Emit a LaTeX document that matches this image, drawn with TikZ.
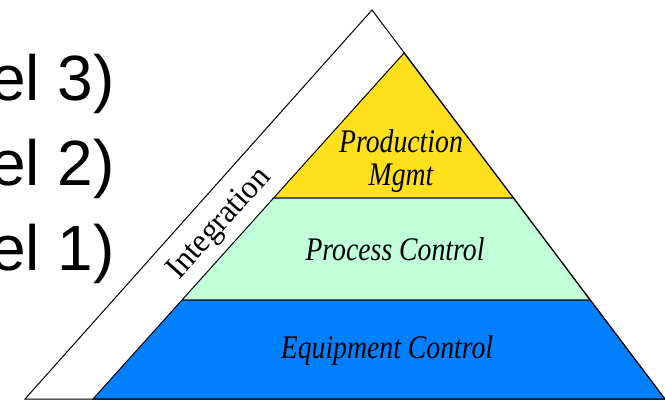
\documentclass[tikz,border=0pt]{standalone}
\usepackage{fontspec}
\usepackage{graphicx}
\setmainfont{Liberation Serif}
\newfontfamily\arialfont{Liberation Sans}
\definecolor{layeryellow}{HTML}{FFE01C}
\definecolor{layergreen}{HTML}{C0FFD8}
\definecolor{layerblue}{HTML}{0080FF}
\tikzset{
  edge/.style={draw=black, line width=1pt, line join=miter},
  lvltext/.style={inner sep=0pt, anchor=base east, font=\arialfont\fontsize{64}{64}\selectfont},
  laytext/.style={inner sep=0pt, anchor=base, font=\fontsize{33}{33}\selectfont\itshape}
}
\begin{document}
\begin{tikzpicture}[x=1pt,y=-1pt]
\useasboundingbox (0,0) rectangle (665,400);
% outer triangle
\coordinate (A) at (372,10);
\coordinate (L) at (25,399);
\coordinate (R) at (665,399);
% inner pyramid
\coordinate (B) at (404,53);
\coordinate (BL) at (93,399);
\coordinate (Y1) at (273.6,198);
\coordinate (Y2) at (513.4,198);
\coordinate (G1) at (182,300);
\coordinate (G2) at (590,300);
\fill[white] (A) -- (L) -- (R) -- cycle;
\filldraw[edge, fill=layeryellow] (B) -- (Y1) -- (Y2) -- cycle;
\filldraw[edge, fill=layergreen] (Y1) -- (Y2) -- (G2) -- (G1) -- cycle;
\filldraw[edge, fill=layerblue] (G1) -- (G2) -- (R) -- (BL) -- cycle;
\draw[edge] (A) -- (L) -- (R) -- cycle;
% texts
\node[lvltext] (l3) at (115,100) {el 3)};
\node[lvltext] (l2) at (115,185) {el 2)};
\node[lvltext] (l1) at (115,270) {el 1)};
\node[inner sep=0pt, rotate=48, font=\fontsize{33}{33}\selectfont] (integ) at (220,224) {\scalebox{0.95}[1]{Integration}};
\node[laytext] (prod) at (401,185) {\scalebox{0.84}[1]{\fontsize{33}{33}\selectfont\begin{tabular}[b]{@{}c@{}}Production\\Mgmt\end{tabular}}};
\node[laytext] (proc) at (395,260) {\scalebox{0.84}[1]{Process Control}};
\node[laytext] (equip) at (387,358) {\scalebox{0.84}[1]{Equipment Control}};
\end{tikzpicture}
\end{document}
